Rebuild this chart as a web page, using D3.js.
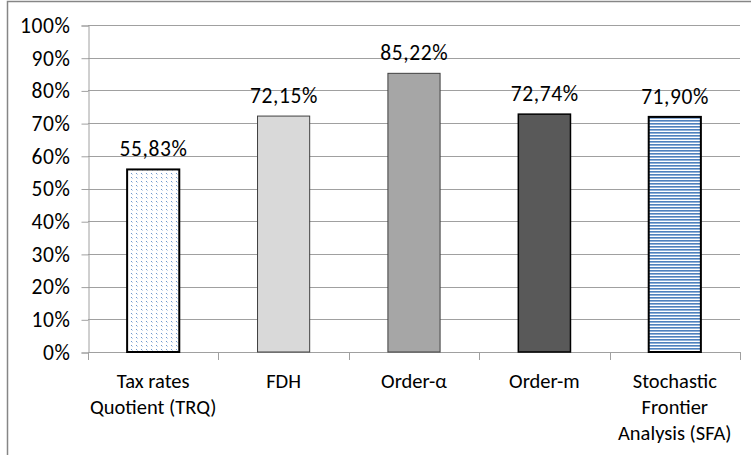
<!DOCTYPE html>
<html><head><meta charset="utf-8">
<script src="https://cdn.jsdelivr.net/npm/d3@7"></script>
<style>body{margin:0;background:#fff}svg{display:block}text{font-family:Carlito,Calibri,Lato,"Liberation Sans",sans-serif;fill:#000}</style>
</head><body>
<svg id="c" width="751" height="455"></svg>
<script>
const categories = [["Tax rates","Quotient (TRQ)"],["FDH"],["Order-α"],["Order-m"],["Stochastic","Frontier","Analysis (SFA)"]];
const values = [55.83, 72.15, 85.22, 72.74, 71.90];
const valueLabels = ["55,83%","72,15%","85,22%","72,74%","71,90%"];
const yTicks = [0,10,20,30,40,50,60,70,80,90,100];
const fills = ["url(#dots)","#d9d9d9","#a6a6a6","#595959","url(#stripes)"];
const strokes = ["#000","#404040","#404040","#000","#000"];
const strokeW = [2,1,1,1.5,2];
const FS = "20.5px";
const NFS = "21.5px";

const svg = d3.select("#c");
const defs = svg.append("defs");
const pd = defs.append("pattern").attr("id","dots").attr("width",5).attr("height",4).attr("patternUnits","userSpaceOnUse");
pd.append("rect").attr("width",5).attr("height",4).attr("fill","#fff");
pd.append("rect").attr("x",1).attr("y",1).attr("width",1).attr("height",1).attr("fill","#6d97cc");
pd.append("rect").attr("x",2).attr("y",2).attr("width",1).attr("height",1).attr("fill","#c2d4ea");
const ps = defs.append("pattern").attr("id","stripes").attr("width",4).attr("height",3).attr("patternUnits","userSpaceOnUse");
ps.append("rect").attr("width",4).attr("height",3).attr("fill","#fff");
ps.append("rect").attr("y",0).attr("width",4).attr("height",1).attr("fill","#4f81bd");
ps.append("rect").attr("y",1).attr("width",4).attr("height",1).attr("fill","#8fb0d8");

// outer border
svg.append("rect").attr("x",7.5).attr("y",1.5).attr("width",760).attr("height",470).attr("fill","none").attr("stroke","#868686").attr("stroke-width",1.5);

const pL = 88, pR = 740, pT = 25, pB = 352;
const x = d3.scaleBand().domain(d3.range(values.length)).range([pL,pR]).paddingInner(0.6).paddingOuter(0.3);
const y = d3.scaleLinear().domain([0,100]).range([pB,pT]);

// grid
svg.append("g").selectAll("line").data(yTicks.filter(d=>d>0)).join("line")
  .attr("x1",pL).attr("x2",pR).attr("y1",d=>Math.round(y(d))+0.5).attr("y2",d=>Math.round(y(d))+0.5)
  .attr("stroke","#a0a0a0").attr("stroke-width",1);

// y axis
const ya = svg.append("g").attr("transform",`translate(${pL+0.5},0.5)`)
  .call(d3.axisLeft(y).tickValues(yTicks).tickFormat(d=>d+"%").tickSize(7).tickPadding(11));
ya.attr("font-size",null).attr("font-family",null);
ya.select(".domain").attr("stroke","#a0a0a0");
ya.selectAll(".tick line").attr("stroke","#a0a0a0");
ya.selectAll(".tick text").style("font-size",NFS).style("letter-spacing","0.6px").attr("fill","#000");

// x axis line and boundary ticks
const xb = d3.scaleLinear().domain([0,values.length]).range([pL,pR]);
svg.append("line").attr("x1",pL).attr("x2",pR).attr("y1",pB+0.5).attr("y2",pB+0.5).attr("stroke","#a0a0a0");
svg.append("g").selectAll("line").data(d3.range(values.length+1)).join("line")
  .attr("x1",d=>Math.round(xb(d))+0.5).attr("x2",d=>Math.round(xb(d))+0.5).attr("y1",pB).attr("y2",pB+8)
  .attr("stroke","#a0a0a0");

// bars
svg.append("g").selectAll("rect").data(values).join("rect")
  .attr("x",(d,i)=>x(i)).attr("width",x.bandwidth())
  .attr("y",d=>y(d)).attr("height",d=>pB-y(d))
  .attr("fill",(d,i)=>fills[i]).attr("stroke",(d,i)=>strokes[i]).attr("stroke-width",(d,i)=>strokeW[i]);

// value labels
svg.append("g").selectAll("text").data(values).join("text")
  .attr("x",(d,i)=>x(i)+x.bandwidth()/2+0.3).attr("y",d=>y(d)-13)
  .attr("text-anchor","middle").style("font-size",NFS).style("letter-spacing","0.6px").text((d,i)=>valueLabels[i]);

// category labels
const cg = svg.append("g").selectAll("text").data(categories).join("text")
  .attr("x",(d,i)=>x(i)+x.bandwidth()/2).attr("y",388).attr("text-anchor","middle").style("font-size",FS);
cg.selectAll("tspan").data(d=>d).join("tspan")
  .attr("x",function(){return this.parentNode.getAttribute("x");})
  .attr("dy",(d,j)=>j===0?0:26).text(d=>d);
</script>
</body></html>
